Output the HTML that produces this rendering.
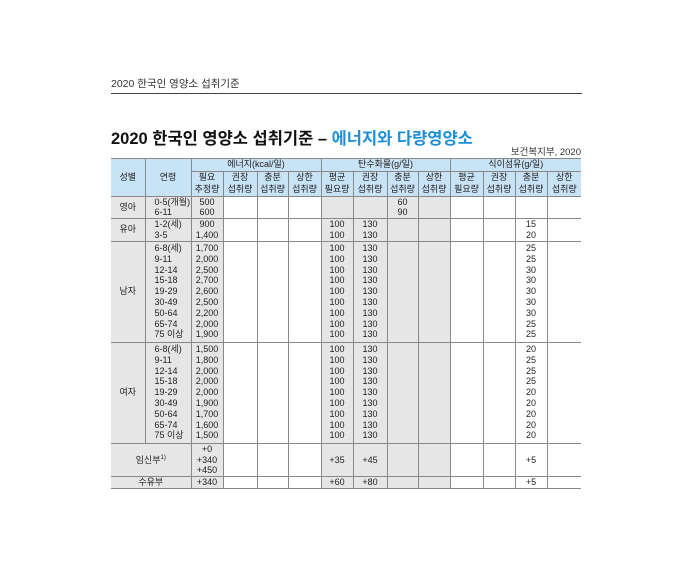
<!DOCTYPE html>
<html><head><meta charset="utf-8"><style>
body{margin:0;width:696px;height:564px;background:#fff;position:relative;font-family:"Liberation Sans","Noto Sans CJK KR",sans-serif;color:#222;}
.top{position:absolute;left:111px;top:76px;font-size:10.5px;color:#333;}
.rule{position:absolute;left:111px;top:93px;width:471px;height:1px;background:#444;}
.title{position:absolute;left:111px;top:125px;font-size:16.5px;font-weight:bold;color:#111;white-space:nowrap;}
.title span{color:#1e90d8;}
.src{position:absolute;right:115px;top:144px;font-size:9.5px;color:#333;}
table{position:absolute;left:111px;top:158px;border-collapse:collapse;table-layout:fixed;font-size:9px;border-top:1.5px solid #666;border-bottom:1.5px solid #666;}
td{border:1px solid #888;padding:0;text-align:center;line-height:10.8px;vertical-align:middle;overflow:hidden;white-space:nowrap;}
tr.h td{background:#c9e3f6;line-height:11.5px;}
.g{background:#e6e6e6;}
.l{text-align:left;padding-left:9px;}
table tr td:first-child{border-left:none;}
table tr td:last-child{border-right:none;}
</style></head><body>
<div class="top">2020 한국인 영양소 섭취기준</div>
<div class="rule"></div>
<div class="title">2020 한국인 영양소 섭취기준 – <span>에너지와 다량영양소</span></div>
<div class="src">보건복지부, 2020</div>
<table>
<colgroup><col style="width:34px"><col style="width:46px"><col style="width:32px"><col style="width:34px"><col style="width:31px"><col style="width:33px"><col style="width:32px"><col style="width:34px"><col style="width:31px"><col style="width:32px"><col style="width:33px"><col style="width:32px"><col style="width:32px"><col style="width:34px"></colgroup>
<tr class="h" style="height:12px"><td rowspan="2">성별</td><td rowspan="2">연령</td><td colspan="4">에너지(kcal/일)</td><td colspan="4">탄수화물(g/일)</td><td colspan="4">식이섬유(g/일)</td></tr>
<tr class="h" style="height:25px"><td>필요<br>추정량</td><td>권장<br>섭취량</td><td>충분<br>섭취량</td><td>상한<br>섭취량</td><td>평균<br>필요량</td><td>권장<br>섭취량</td><td>충분<br>섭취량</td><td>상한<br>섭취량</td><td>평균<br>필요량</td><td>권장<br>섭취량</td><td>충분<br>섭취량</td><td>상한<br>섭취량</td></tr>
<tr style="height:22.5px"><td class="g">영아</td><td class="g l">0-5(개월)<br>6-11</td><td class="g">500<br>600</td><td></td><td></td><td></td><td class="g"></td><td class="g"></td><td class="g">60<br>90</td><td class="g"></td><td></td><td></td><td></td><td></td></tr>
<tr style="height:22.5px"><td class="g">유아</td><td class="g l">1-2(세)<br>3-5</td><td class="g">900<br>1,400</td><td></td><td></td><td></td><td class="g">100<br>100</td><td class="g">130<br>130</td><td class="g"></td><td class="g"></td><td></td><td></td><td>15<br>20</td><td></td></tr>
<tr style="height:101px"><td class="g">남자</td><td class="g l">6-8(세)<br>9-11<br>12-14<br>15-18<br>19-29<br>30-49<br>50-64<br>65-74<br>75 이상</td><td class="g">1,700<br>2,000<br>2,500<br>2,700<br>2,600<br>2,500<br>2,200<br>2,000<br>1,900</td><td></td><td></td><td></td><td class="g">100<br>100<br>100<br>100<br>100<br>100<br>100<br>100<br>100</td><td class="g">130<br>130<br>130<br>130<br>130<br>130<br>130<br>130<br>130</td><td class="g"></td><td class="g"></td><td></td><td></td><td>25<br>25<br>30<br>30<br>30<br>30<br>30<br>25<br>25</td><td></td></tr>
<tr style="height:101px"><td class="g">여자</td><td class="g l">6-8(세)<br>9-11<br>12-14<br>15-18<br>19-29<br>30-49<br>50-64<br>65-74<br>75 이상</td><td class="g">1,500<br>1,800<br>2,000<br>2,000<br>2,000<br>1,900<br>1,700<br>1,600<br>1,500</td><td></td><td></td><td></td><td class="g">100<br>100<br>100<br>100<br>100<br>100<br>100<br>100<br>100</td><td class="g">130<br>130<br>130<br>130<br>130<br>130<br>130<br>130<br>130</td><td class="g"></td><td class="g"></td><td></td><td></td><td>20<br>25<br>25<br>25<br>20<br>20<br>20<br>20<br>20</td><td></td></tr>
<tr style="height:33.5px"><td class="g" colspan="2">임신부<sup style="font-size:6px;line-height:0">1)</sup></td><td class="g">+0<br>+340<br>+450</td><td></td><td></td><td></td><td class="g">+35</td><td class="g">+45</td><td class="g"></td><td class="g"></td><td></td><td></td><td>+5</td><td></td></tr>
<tr style="height:11px"><td class="g" colspan="2">수유부</td><td class="g">+340</td><td></td><td></td><td></td><td class="g">+60</td><td class="g">+80</td><td class="g"></td><td class="g"></td><td></td><td></td><td>+5</td><td></td></tr>
</table>
</body></html>
